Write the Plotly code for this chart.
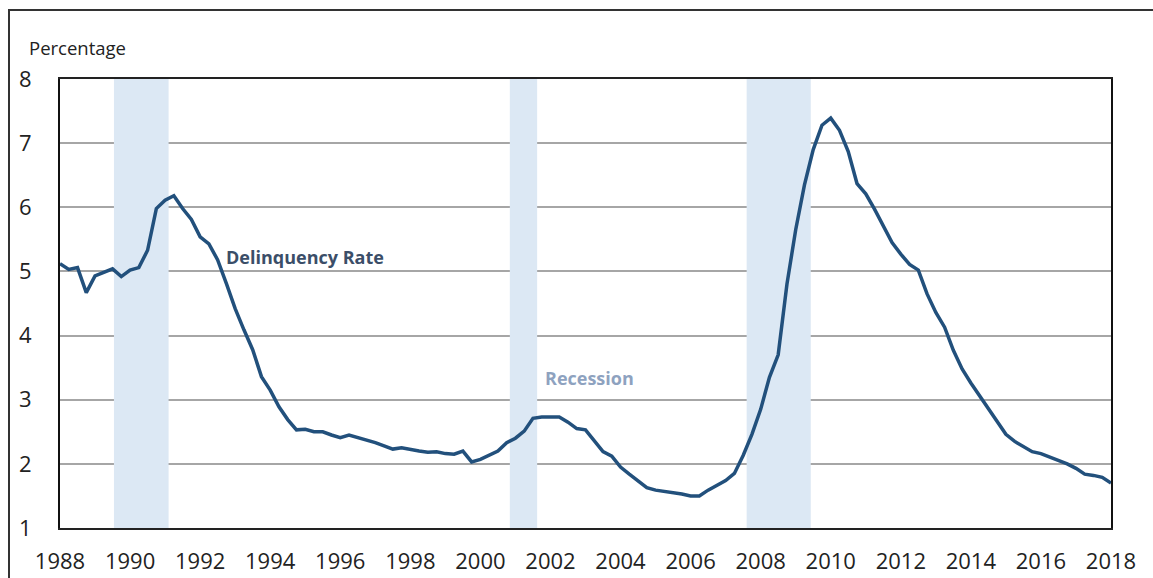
import plotly.graph_objects as go

# Quarterly delinquency rate, 1988Q1 .. 2018Q1
start_year = 1988
rate = [
    5.12, 5.03, 5.06, 4.67, 4.93, 4.98, 5.04, 4.92,   # 1988-1989
    5.02, 5.06, 5.33, 5.98, 6.11, 6.18, 5.98, 5.81,   # 1990-1991
    5.54, 5.43, 5.18, 4.81, 4.42, 4.09, 3.78, 3.36,   # 1992-1993
    3.15, 2.89, 2.69, 2.53, 2.54, 2.50, 2.50, 2.45,   # 1994-1995
    2.41, 2.45, 2.41, 2.38, 2.33, 2.28, 2.23, 2.25,   # 1996-1997
    2.22, 2.20, 2.18, 2.19, 2.16, 2.15, 2.20, 2.03,   # 1998-1999
    2.07, 2.13, 2.20, 2.33, 2.40, 2.51, 2.71, 2.73,   # 2000-2001
    2.73, 2.73, 2.65, 2.55, 2.53, 2.36, 2.19, 2.12,   # 2002-2003
    1.95, 1.84, 1.73, 1.63, 1.59, 1.57, 1.56, 1.53,   # 2004-2005
    1.50, 1.50, 1.59, 1.67, 1.74, 1.85, 2.13, 2.46,   # 2006-2007
    2.85, 3.35, 3.70, 4.80, 5.65, 6.35, 6.90, 7.28,   # 2008-2009
    7.39, 7.20, 6.87, 6.37, 6.21, 5.97, 5.72, 5.45,   # 2010-2011
    5.27, 5.11, 5.02, 4.65, 4.36, 4.13, 3.77, 3.48,   # 2012-2013
    3.26, 3.06, 2.87, 2.67, 2.46, 2.35, 2.27, 2.19,   # 2014-2015
    2.16, 2.11, 2.05, 2.00, 1.93, 1.84, 1.82, 1.79,   # 2016-2017
    1.70,                                              # 2018
]
quarter_x = [start_year + i / 4 for i in range(len(rate))]

recession_start = [1989.54, 2000.84, 2007.60]
recession_end = [1991.10, 2001.62, 2009.43]

x_ticks = list(range(1988, 2019, 2))
y_ticks = [1, 2, 3, 4, 5, 6, 7, 8]

FONT = "Open Sans"
LINE_COLOR = "#22507c"
BAND_COLOR = "#dce8f4"

fig = go.Figure()
fig.add_trace(go.Scatter(
    x=quarter_x, y=rate, mode="lines",
    line=dict(color=LINE_COLOR, width=3.5),
    showlegend=False, hoverinfo="x+y",
))

for x0, x1 in zip(recession_start, recession_end):
    fig.add_shape(type="rect", xref="x", yref="y", x0=x0, x1=x1, y0=1, y1=8,
                  fillcolor=BAND_COLOR, line=dict(width=0), layer="between")

# outer frame
W, H = 1153, 578
L, R, T, B = 60, 42, 79, 50
pw, ph = W - L - R, H - T - B
def px2paper_x(px):
    return (px - L) / pw
def py2paper_y(py):
    return (H - B - py) / ph

fig.add_shape(type="rect", xref="paper", yref="paper",
              x0=px2paper_x(9), x1=px2paper_x(1200),
              y0=py2paper_y(640), y1=py2paper_y(10),
              line=dict(color="#333333", width=2), fillcolor="rgba(0,0,0,0)",
              layer="above")

fig.add_annotation(text="Percentage", xref="paper", yref="paper",
                   x=px2paper_x(27), y=py2paper_y(48), xanchor="left", yanchor="middle",
                   showarrow=False, font=dict(family=FONT, size=18.5, color="#222222"))
fig.add_annotation(text="<b>Delinquency Rate</b>", xref="x", yref="y",
                   x=1992.68, y=5.22, xanchor="left", yanchor="middle",
                   showarrow=False, font=dict(family=FONT, size=18, color="#3b4e68"))
fig.add_annotation(text="<b>Recession</b>", xref="x", yref="y",
                   x=2001.80, y=3.34, xanchor="left", yanchor="middle",
                   showarrow=False, font=dict(family=FONT, size=18, color="#8ea2bf"))

fig.update_layout(
    width=W, height=H,
    margin=dict(l=L, r=R, t=T, b=B, pad=0, autoexpand=False),
    paper_bgcolor="white", plot_bgcolor="white",
    font=dict(family=FONT, color="#222222"),
    xaxis=dict(range=[1988, 2018], tickvals=x_ticks, ticktext=[str(v) for v in x_ticks],
               showgrid=False, zeroline=False, showline=True, linecolor="#222222",
               linewidth=2, mirror=True, ticks="", ticklabelstandoff=13, automargin=False,
               tickfont=dict(family=FONT, size=22, color="#222222")),
    yaxis=dict(range=[1, 8], tickvals=y_ticks, showgrid=True, gridcolor="#a6a6a6",
               gridwidth=1.5, zeroline=False, showline=True, linecolor="#111111",
               linewidth=2, mirror=True, ticks="", ticklabelstandoff=22, automargin=False,
               tickfont=dict(family=FONT, size=22, color="#222222")),
)

fig.write_html("out.html", config={"displayModeBar": False},
               post_script="document.body.style.margin='0';")
